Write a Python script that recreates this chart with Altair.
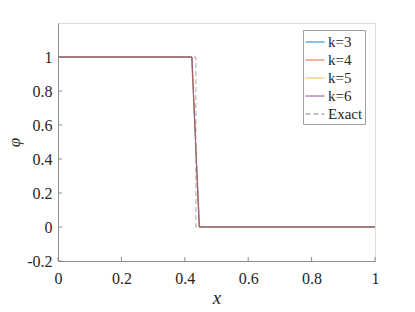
import altair as alt
import pandas as pd

# Series: (x, phi) vertices of each profile
series_names = ["k=3", "k=4", "k=5", "k=6", "Exact"]
x_k3 = [0.0, 0.421, 0.447, 1.0]
x_k4 = [0.0, 0.422, 0.446, 1.0]
x_k5 = [0.0, 0.423, 0.445, 1.0]
x_k6 = [0.0, 0.423, 0.445, 1.0]
x_exact = [0.0, 0.435, 0.435, 1.0]
phi_profile = [1.0, 1.0, 0.0, 0.0]

x_ticks = [0, 0.2, 0.4, 0.6, 0.8, 1]
y_ticks = [-0.2, 0, 0.2, 0.4, 0.6, 0.8, 1]

colors = ["#0072BD", "#D95319", "#EDB120", "#7E2F8E", "#808080"]
dashes = [[1, 0], [1, 0], [1, 0], [1, 0], [5, 3]]

rows = []
for name, xs in zip(series_names, [x_k3, x_k4, x_k5, x_k6, x_exact]):
    for i, (xv, yv) in enumerate(zip(xs, phi_profile)):
        rows.append({"series": name, "x": xv, "phi": yv, "order": i})
df = pd.DataFrame(rows)

FONT = "Liberation Serif"
AX = "#8c8c8c"
TXT = "#262626"

xscale = alt.Scale(domain=[0, 1], nice=False, zero=False)
yscale = alt.Scale(domain=[-0.2, 1.2], nice=False, zero=False)

x_axis = alt.Axis(
    values=x_ticks, title="x", tickSize=0, labelPadding=9,
    labelExpr="datum.value + ''", labelOverlap=False,
    labelFont=FONT, labelFontSize=16, labelColor=TXT,
    titleFont=FONT, titleFontSize=19, titleFontStyle="italic",
    titleFontWeight="normal", titleColor=TXT, titlePadding=2,
    domainColor=AX, grid=False, labelFlush=False)
y_axis = alt.Axis(
    values=y_ticks, title="φ", tickSize=0, labelPadding=6,
    labelExpr="datum.value + ''", labelOverlap=False,
    labelFont=FONT, labelFontSize=16, labelColor=TXT,
    titleFont=FONT, titleFontSize=17, titleFontStyle="italic",
    titleFontWeight="normal", titleColor=TXT, titlePadding=3,
    domainColor=AX, grid=False, labelFlush=False)

lines = alt.Chart(df).mark_line(strokeWidth=0.7, clip=True).encode(
    x=alt.X("x:Q", scale=xscale, axis=x_axis, title="x"),
    y=alt.Y("phi:Q", scale=yscale, axis=y_axis, title="φ"),
    color=alt.Color("series:N", scale=alt.Scale(domain=series_names, range=colors),
                    sort=series_names,
                    legend=alt.Legend(
                        title=None, orient="none", legendX=245, legendY=7,
                        symbolType="stroke", symbolSize=361, symbolStrokeWidth=1,
                        labelFont=FONT, labelFontSize=15, labelColor=TXT,
                        strokeColor="#a0a0a0", padding=2, rowPadding=0,
                        labelOffset=3, fillColor="white")),
    strokeDash=alt.StrokeDash("series:N", scale=alt.Scale(domain=series_names, range=dashes),
                              sort=series_names, legend=None),
    order="order:Q",
    detail="series:N",
)

xt = pd.DataFrame({"v": x_ticks})
yt = pd.DataFrame({"v": y_ticks})
xtick_marks = alt.Chart(xt).mark_rule(color=AX, strokeWidth=1).encode(
    x=alt.X("v:Q", scale=xscale, axis=x_axis, title="x"),
    y=alt.value(238), y2=alt.value(234))
ytick_marks = alt.Chart(yt).mark_rule(color=AX, strokeWidth=1).encode(
    y=alt.Y("v:Q", scale=yscale, axis=y_axis, title="φ"),
    x=alt.value(0), x2=alt.value(4))

chart = alt.layer(lines, xtick_marks, ytick_marks).properties(
    width=317, height=238,
    autosize=alt.AutoSizeParams(type="none"),
    padding={"left": 50, "top": 15, "right": 32, "bottom": 48},
).configure_view(stroke=None).configure(background="white")

chart.save("out.html", embed_options={"renderer": "svg", "actions": False})
